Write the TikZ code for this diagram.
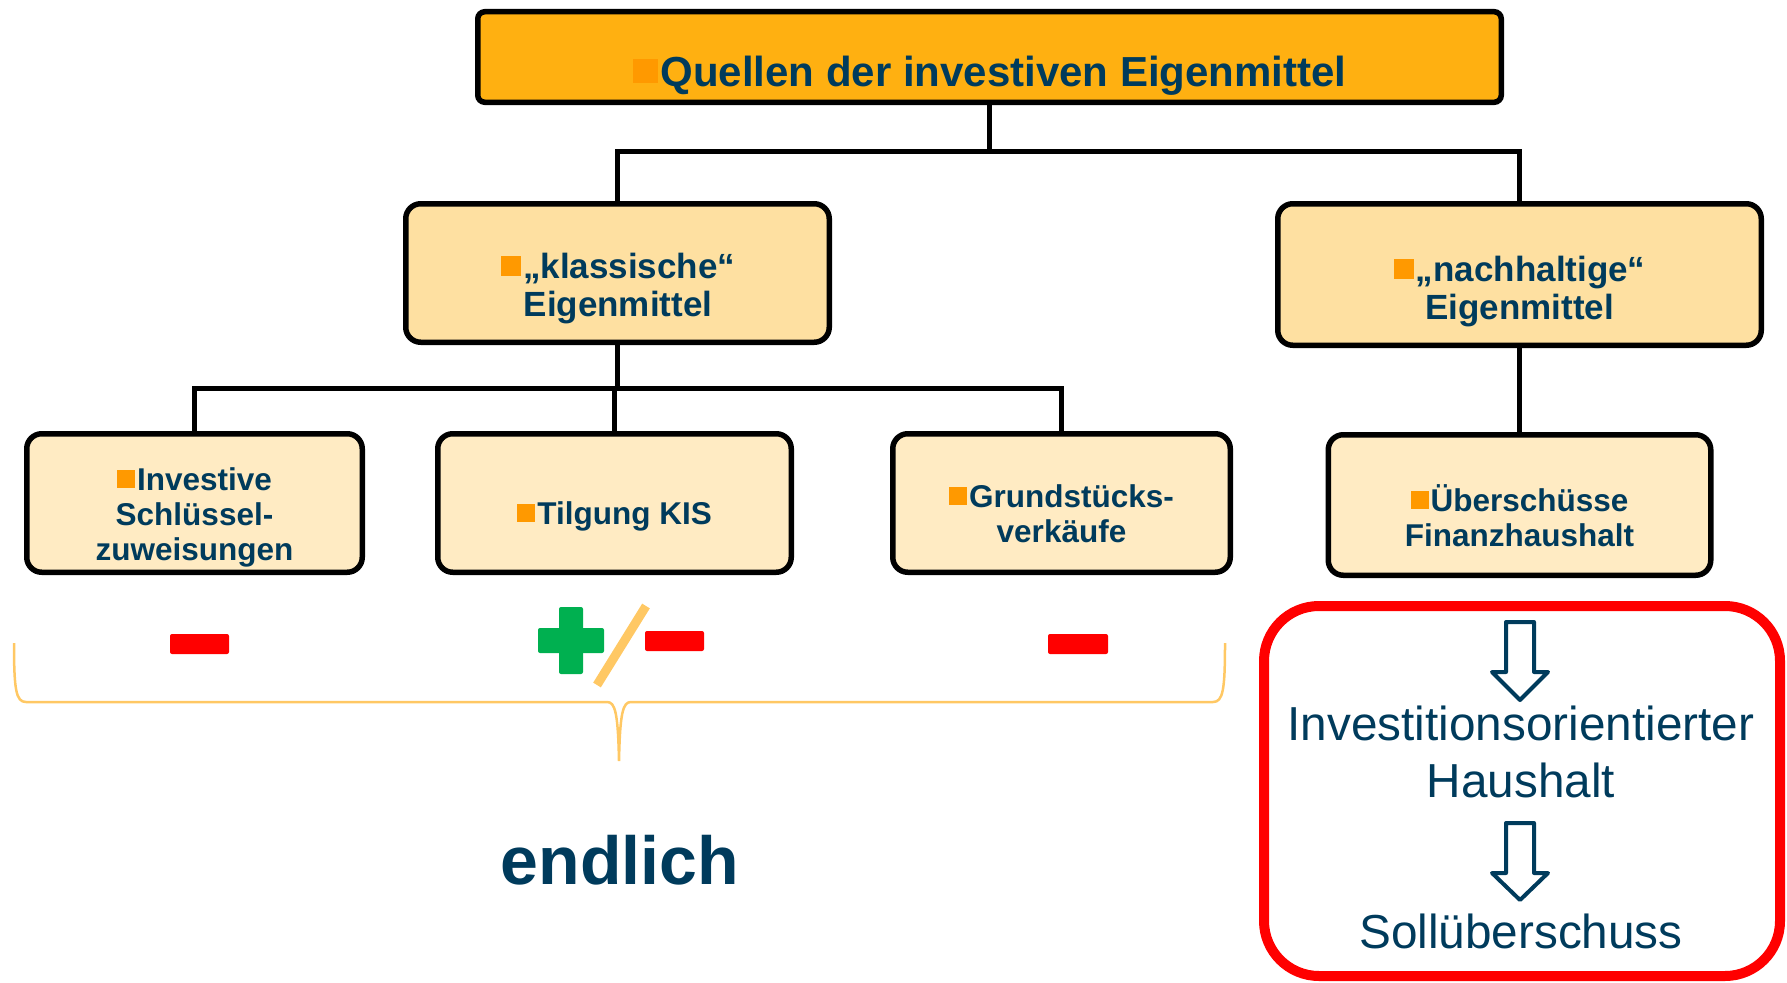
\documentclass[tikz,border=0pt]{standalone}
\usepackage{fontspec}
\setmainfont{Liberation Sans}
\definecolor{navy}{HTML}{003B5C}
\definecolor{bulc}{HTML}{FF9900}
\definecolor{topc}{HTML}{FFB011}
\definecolor{midc}{HTML}{FEE0A1}
\definecolor{lowc}{HTML}{FFEBC3}
\definecolor{redc}{HTML}{FF0000}
\definecolor{greenc}{HTML}{00B050}
\definecolor{lightor}{HTML}{FFC864}
\newcommand\bul{{\color{bulc}\rule[0.06em]{0.58em}{0.58em}}\hspace{0.06em}}
\newcommand\mlines[1]{\vtop{\halign{\hfil##\hfil\cr#1\crcr}}}
\tikzset{
  box/.style={draw=black, line width=5.5pt, rounded corners=15pt, inner sep=0pt},
  topbox/.style={box, fill=topc, rounded corners=7pt},
  midbox/.style={box, fill=midc},
  lowbox/.style={box, fill=lowc},
  conn/.style={draw=black, line width=5pt},
  txt/.style={text=navy, inner sep=0pt, anchor=base},
  titlef/.style={txt, font=\bfseries\fontsize{42}{46}\selectfont},
  midf/.style={txt, font=\bfseries\fontsize{35}{38}\selectfont},
  lowf/.style={txt, font=\bfseries\fontsize{31.5}{35}\selectfont},
  regf/.style={txt, font=\fontsize{47.7}{57}\selectfont},
  hollow/.style={draw=navy, line width=4pt, line join=round},
  minus/.style={fill=redc, rounded corners=2pt},
}
\begin{document}
\begin{tikzpicture}[x=1pt,y=-1pt]
\useasboundingbox (0,0) rectangle (1787,982);
% boxes
\node[topbox, minimum width=1023.5pt, minimum height=90.5pt] (top) at (989.5,57) {};
\node[midbox, minimum width=423.5pt, minimum height=138.5pt] (kl) at (617.5,273) {};
\node[midbox, minimum width=483.5pt, minimum height=141.5pt] (na) at (1519.5,274.5) {};
\node[lowbox, minimum width=335.5pt, minimum height=138.5pt] (inv) at (194.5,503) {};
\node[lowbox, minimum width=353.5pt, minimum height=138.5pt] (ti) at (614.5,503) {};
\node[lowbox, minimum width=337.5pt, minimum height=138.5pt] (gr) at (1061.5,503) {};
\node[lowbox, minimum width=382.5pt, minimum height=140.5pt] (ue) at (1519.5,505) {};
% texts
\node[titlef] (ttop) at (990,86) {\bul Quellen der investiven Eigenmittel};
\node[midf] (tkl) at (618,278) {\mlines{\bul„klassische“\cr Eigenmittel}};
\node[midf] (tna) at (1519.5,281) {\mlines{\bul„nachhaltige“\cr Eigenmittel}};
\node[lowf] (tinv) at (194.5,490) {\mlines{\bul Investive\cr Schlüssel-\cr zuweisungen}};
\node[lowf] (tti) at (614.5,524) {\bul Tilgung KIS};
\node[lowf] (tgr) at (1061.5,507) {\mlines{\bul Grundstücks-\cr verkäufe}};
\node[lowf] (tue) at (1519.5,511) {\mlines{\bul Überschüsse\cr Finanzhaushalt}};
% connectors
\coordinate (j1) at (989.5,151.5);
\draw[conn] (top.south) -- (j1);
\draw[conn] (kl.north) |- (j1) -| (na.north);
\coordinate (j2) at (617.5,388);
\draw[conn] (kl.south) -- (j2);
\draw[conn] (inv.north) |- (j2) -| (gr.north);
\draw[conn] (ti.north) -- (ti.north |- j2);
\draw[conn] (na.south) -- (ue.north);
% signs
\fill[minus] (170,634) rectangle (229,654);
\fill[minus] (645,631) rectangle (704,651);
\fill[minus] (1048,634) rectangle (1108,654);
\fill[greenc, rounded corners=2pt] (559,607) rectangle (583,674);
\fill[greenc, rounded corners=2pt] (538,628) rectangle (604,653);
\draw[lightor, line width=9pt] (646,606) -- (597,685);
% brace
\draw[lightor, line width=2.5pt] (14,643) .. controls (14,690) and (16,702) .. (26,702) -- (607,702)
  .. controls (615,702) and (618,712) .. (619,761)
  .. controls (620,712) and (623,702) .. (631,702) -- (1213,702)
  .. controls (1223,702) and (1225,690) .. (1225,643);
\node[txt, font=\bfseries\fontsize{68}{72}\selectfont] (endl) at (620,884) {endlich};
% red frame
\draw[redc, line width=10pt, rounded corners=55pt] (1264,606) rectangle (1780,976);
\draw[hollow] (1506,622) -- (1534,622) -- (1534,672) -- (1548,672) -- (1520,700) -- (1492,672) -- (1506,672) -- cycle;
\draw[hollow] (1506,823) -- (1534,823) -- (1534,873) -- (1548,873) -- (1520,900) -- (1492,873) -- (1506,873) -- cycle;
\node[regf] (t1) at (1521,740) {Investitionsorientierter};
\node[regf] (t2) at (1521,797) {Haushalt};
\node[regf] (t3) at (1521,948) {Sollüberschuss};
\end{tikzpicture}
\end{document}
